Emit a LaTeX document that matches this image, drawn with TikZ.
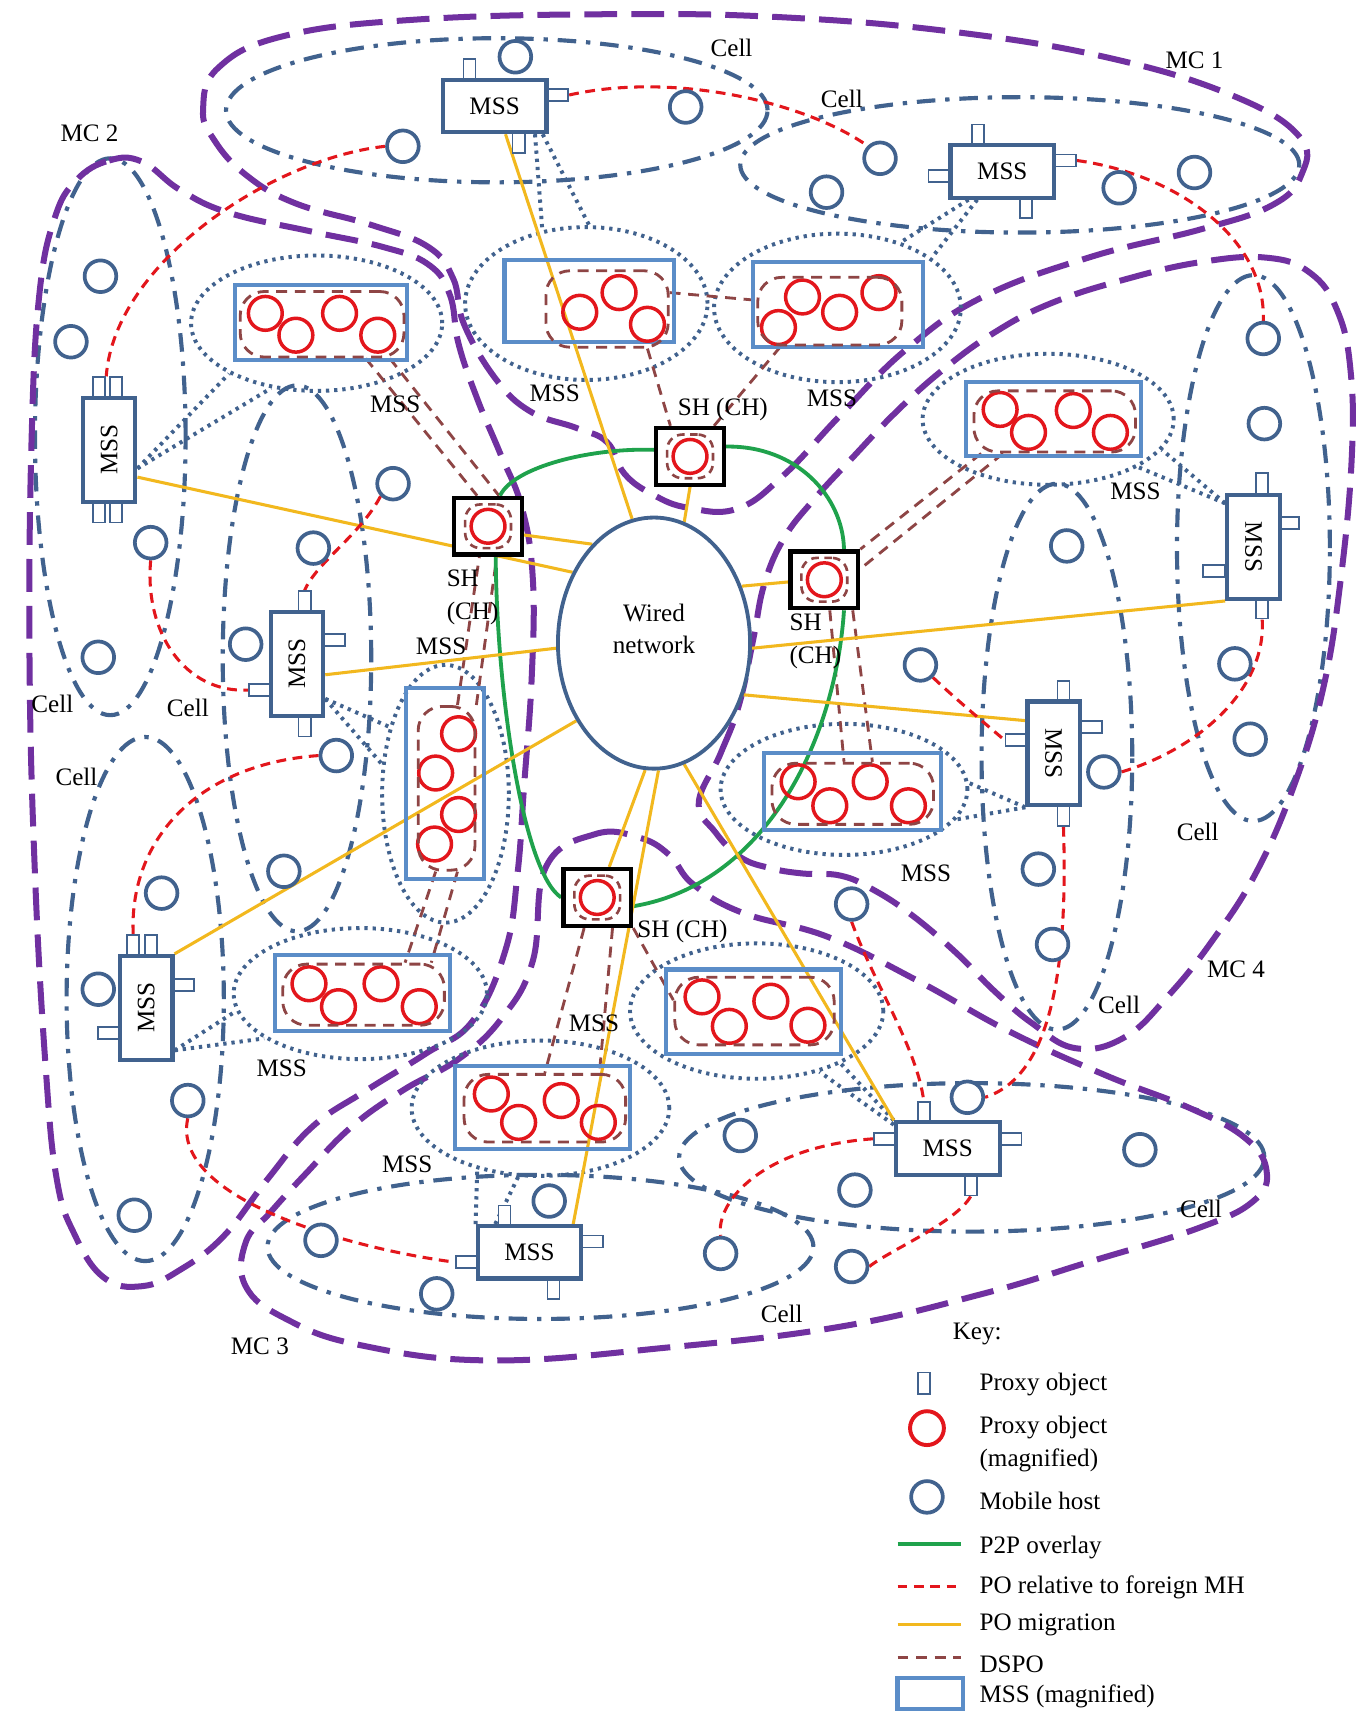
\documentclass[tikz,border=0pt]{standalone}
\usepackage{graphicx}
\usepackage{fontspec}
\setmainfont{Liberation Serif}
\usetikzlibrary{shapes.geometric,calc}
\pgfdeclarelayer{back}
\pgfdeclarelayer{lines}
\pgfsetlayers{back,lines,main}
\definecolor{mcpurple}{HTML}{7030A0}
\definecolor{cellblue}{HTML}{41628E}
\definecolor{magblue}{HTML}{5B8DC8}
\definecolor{pored}{HTML}{E3161C}
\definecolor{dsbrown}{HTML}{8E4545}
\definecolor{ptwo}{HTML}{1FA24C}
\definecolor{migr}{HTML}{F2B81E}
\tikzset{
  txt/.style={font=\fontsize{23}{30}\selectfont, inner sep=0pt},
  mcline/.style={draw=mcpurple, line width=5.5pt, dash pattern=on 30pt off 13pt},
  cellline/.style={draw=cellblue, line width=3.8pt, dash pattern=on 17pt off 9pt on 4pt off 9pt},
  mhost/.style={circle, draw=cellblue, line width=3.4pt, fill=white, minimum size=29pt, inner sep=0pt},
  pobj/.style={circle, draw=pored, line width=3.2pt, minimum size=31pt, inner sep=0pt},
  mssh/.style={txt, draw=cellblue, line width=3.8pt, fill=white, minimum width=95pt, minimum height=48pt},
  mssv/.style={txt, draw=cellblue, line width=3.8pt, fill=white, minimum width=48pt, minimum height=95pt},
  stubv/.style={draw=cellblue, line width=1.6pt, fill=white, minimum width=11pt, minimum height=19pt, inner sep=0pt},
  stubh/.style={draw=cellblue, line width=1.6pt, fill=white, minimum width=20pt, minimum height=11pt, inner sep=0pt},
  magbox/.style={draw=magblue, line width=3.8pt, inner sep=0pt},
  dotline/.style={draw=cellblue, line width=3.6pt, dash pattern=on 3pt off 4.5pt},
  bubble/.style={ellipse, dotline, inner sep=0pt},
  shbox/.style={draw=black, line width=4pt, fill=white, minimum width=62pt, minimum height=52pt, inner sep=0pt},
  foreign/.style={draw=pored, line width=2.8pt, dash pattern=on 9pt off 6pt},
  migration/.style={draw=migr, line width=2.8pt},
  ptp/.style={draw=ptwo, line width=3.5pt},
  dspo/.style={draw=dsbrown, line width=2.6pt, dash pattern=on 10pt off 7pt},
  dloop/.style={rectangle, rounded corners=22pt, dspo, inner sep=0pt},
  shloop/.style={rectangle, rounded corners=14pt, draw=dsbrown, line width=2.4pt, dash pattern=on 7pt off 5pt, minimum width=42pt, minimum height=40pt, inner sep=0pt},
}
\begin{document}
\begin{tikzpicture}[x=1pt,y=-1pt]
\begin{pgfonlayer}{back}
\fill[white] (0,0) rectangle (1247,1568);
\end{pgfonlayer}
\useasboundingbox (0,0) rectangle (1247,1568);

% ---------- wired network
\node[ellipse, draw=cellblue, line width=3.5pt, fill=white, minimum width=176pt, minimum height=230pt, inner sep=0pt] (wn) at (599,589) {};
\node[txt, align=center] (wnt) at (599,576) {Wired\\network};

% ---------- magnified MSS rectangles
\node[magbox, minimum width=158pt, minimum height=69pt] (r1) at (294,295.5) {};
\node[magbox, minimum width=155pt, minimum height=75pt] (r2) at (539.5,275.5) {};
\node[magbox, minimum width=155pt, minimum height=78pt] (r3) at (767.5,279) {};
\node[magbox, minimum width=160pt, minimum height=68pt] (r4) at (965,384) {};
\node[magbox, minimum width=71pt, minimum height=175pt] (r5) at (407.5,717.5) {};
\node[magbox, minimum width=162pt, minimum height=70pt] (r6) at (781,725) {};
\node[magbox, minimum width=160pt, minimum height=69pt] (r7) at (332,909.5) {};
\node[magbox, minimum width=160pt, minimum height=77pt] (r8) at (690,926.5) {};
\node[magbox, minimum width=160pt, minimum height=76pt] (r9) at (497,1014) {};

% ---------- proxy objects (magnified)
\foreach \n/\x/\y in {q1/243/287, q2/271/307, q3/311/287, q4/346/307,
  q5/531/286, q6/567/268, q7/593/297,
  q8/713/300, q9/735/272, q10/769/286, q11/805/268,
  q12/916/375, q13/942/396, q14/983/376, q15/1017/396,
  q16/420/672, q17/399/708, q18/420/746, q19/398/773,
  q20/731/716, q21/760/738, q22/797/716, q23/832/738,
  q24/283/901, q25/310/922, q26/349/901, q27/384/922,
  q28/643/913, q29/668/940, q30/706/917, q31/740/939,
  q32/450/1002, q33/475/1028, q34/514/1008, q35/548/1028}
  \node[pobj] (\n) at (\x,\y) {};

% ---------- DSPO loops
\node[dloop, minimum width=150pt, minimum height=60pt] (d1) at (295,297) {};
\node[dloop, minimum width=112pt, minimum height=70pt] (d2) at (556,283) {};
\node[dloop, minimum width=132pt, minimum height=62pt] (d3) at (760,285) {};
\node[dloop, minimum width=148pt, minimum height=56pt] (d4) at (966,386) {};
\node[dloop, minimum width=52pt, minimum height=150pt] (d5) at (409,722) {};
\node[dloop, minimum width=148pt, minimum height=56pt] (d6) at (781,727) {};
\node[dloop, minimum width=148pt, minimum height=56pt] (d7) at (333,911) {};
\node[dloop, minimum width=146pt, minimum height=62pt] (d8) at (691,926) {};
\node[dloop, minimum width=148pt, minimum height=62pt] (d9) at (499,1015) {};

% ---------- MSS stubs (proxy objects)
\node[stubv] (mAt) at (430,63.5) {};
\node[stubh] (mAr) at (510.5,87) {};
\node[stubv] (mAb) at (475,130.5) {};
\node[stubv] (mBt) at (896,123.5) {};
\node[stubh] (mBr) at (975.5,147) {};
\node[stubh] (mBl) at (860.5,161) {};
\node[stubv] (mBb) at (940,190.5) {};
\node[stubv] (mCt1) at (91,355) {};
\node[stubv] (mCt2) at (106,355) {};
\node[stubv] (mCb1) at (91,469) {};
\node[stubv] (mCb2) at (106,469) {};
\node[stubv] (mDt) at (279,551) {};
\node[stubh] (mDr) at (306,586) {};
\node[stubh] (mDl) at (238,632) {};
\node[stubv] (mDb) at (279,665) {};
\node[stubv] (mEt1) at (122,866) {};
\node[stubv] (mEt2) at (138,866) {};
\node[stubh] (mEr) at (168,902) {};
\node[stubh] (mEl) at (100,946) {};
\node[stubv] (mFt) at (1156,443) {};
\node[stubh] (mFr) at (1180,479) {};
\node[stubh] (mFl) at (1112,523) {};
\node[stubv] (mFb) at (1156,557) {};
\node[stubv] (mGt) at (974,633) {};
\node[stubh] (mGr) at (999,666) {};
\node[stubh] (mGl) at (931,678) {};
\node[stubv] (mGb) at (974,747) {};
\node[stubv] (mHt) at (846,1018.5) {};
\node[stubh] (mHl) at (810.5,1043) {};
\node[stubh] (mHr) at (925.5,1043) {};
\node[stubv] (mHb) at (889,1085.5) {};
\node[stubv] (mIt) at (462,1113.5) {};
\node[stubh] (mIl) at (427.5,1156) {};
\node[stubh] (mIr) at (542.5,1137) {};
\node[stubv] (mIb) at (507,1180.5) {};

% ---------- MSS boxes
\node[mssh] (mA) at (453,97) {MSS};
\node[mssh] (mB) at (918,157) {MSS};
\node[mssv] (mC) at (100,412) {\rotatebox{90}{MSS}};
\node[mssv] (mD) at (272,608) {\rotatebox{90}{MSS}};
\node[mssv] (mE) at (134,923) {\rotatebox{90}{MSS}};
\node[mssv] (mF) at (1148,501) {\rotatebox{-90}{MSS}};
\node[mssv] (mG) at (965,690) {\rotatebox{-90}{MSS}};
\node[mssh] (mH) at (868,1052) {MSS};
\node[mssh] (mI) at (485,1147) {MSS};

% ---------- SH (CH) boxes
\foreach \n/\x/\y in {sh1/632/418, sh2/447/482, sh3/755/531, sh4/547/822}{
  \node[shbox] (\n) at (\x,\y) {};
  \node[shloop] (\n l) at (\x,\y) {};
  \node[pobj] (\n c) at (\x,\y) {};
}

% ---------- mobile hosts
\foreach \n/\x/\y in {t1/472/52, t2/628/98, t3/369/134, t4/806/145, t5/757/176, t6/1025/172, t7/1094/158,
  h1/92/253, h2/65/313, h3/138/497, h4/90/602, h5/360/443, h6/287/502, h7/225/590, h8/308/692,
  h9/260/798, h10/148/818, h11/90/906, h12/172/1008, h13/123/1113,
  h14/294/1136, h15/400/1185, h16/503/1100, h17/678/1040, h18/783/1090, h19/660/1148, h20/780/1160,
  h21/886/1005, h22/1044/1053,
  h23/1157/310, h24/1158/388, h25/977/500, h26/1131/608, h27/1145/677, h28/843/609, h29/1011/707,
  h30/951/796, h31/964/865, h32/780/828}
  \node[mhost] (\n) at (\x,\y) {};

% ---------- labels
\node[txt] (lc1) at (670,44) {Cell};
\node[txt] (lc2) at (771,91) {Cell};
\node[txt] (lmc1) at (1094,55) {MC 1};
\node[txt] (lmc2) at (82,122) {MC 2};
\node[txt] (lm1) at (362,370) {MSS};
\node[txt] (lm2) at (508,360) {MSS};
\node[txt] (lm3) at (762,365) {MSS};
\node[txt] (lsh1) at (662,375) {SH (CH)};
\node[txt] (lm4) at (1040,450) {MSS};
\node[txt, align=left, anchor=north west] (lsh2) at (409,522) {SH\\(CH)};
\node[txt] (lm5) at (404,592) {MSS};
\node[txt, align=left, anchor=north west] (lsh3) at (723,562) {SH\\(CH)};
\node[txt] (lc3) at (48,645) {Cell};
\node[txt] (lc4) at (172,648) {Cell};
\node[txt] (lc5) at (70,712) {Cell};
\node[txt] (lm6) at (848,800) {MSS};
\node[txt] (lc6) at (1097,762) {Cell};
\node[txt] (lsh4) at (625,853) {SH (CH)};
\node[txt] (lmc4) at (1132,888) {MC 4};
\node[txt] (lc7) at (1025,920) {Cell};
\node[txt] (lm8) at (544,937) {MSS};
\node[txt] (lm7) at (258,978) {MSS};
\node[txt] (lm9) at (373,1066) {MSS};
\node[txt] (lc8) at (1100,1107) {Cell};
\node[txt] (lc9) at (716,1203) {Cell};
\node[txt] (lmc3) at (238,1233) {MC 3};

% ---------- legend
\node[txt] (key) at (895,1222) {Key:};
\node[stubv, minimum height=20pt] (kpo) at (846,1267) {};
\node[txt, anchor=west] (kt1) at (897,1268) {Proxy object};
\node[pobj, line width=3.6pt] (kpm) at (849,1308) {};
\node[txt, anchor=north west, align=left] (kt2) at (897,1297) {Proxy object\\(magnified)};
\node[mhost] (kmh) at (849,1371) {};
\node[txt, anchor=west] (kt3) at (897,1375) {Mobile host};
\coordinate (ka1) at (822,1414); \coordinate (kb1) at (880,1414);
\node[txt, anchor=west] (kt4) at (897,1417) {P2P overlay};
\coordinate (ka2) at (822,1453); \coordinate (kb2) at (880,1453);
\node[txt, anchor=west] (kt5) at (897,1454) {PO relative to foreign MH};
\coordinate (ka3) at (822,1488); \coordinate (kb3) at (880,1488);
\node[txt, anchor=west] (kt6) at (897,1488) {PO migration};
\coordinate (ka4) at (822,1518); \coordinate (kb4) at (880,1518);
\node[txt, anchor=west] (kt7) at (897,1524) {DSPO};
\node[magbox, minimum width=60pt, minimum height=29pt] (kmag) at (852,1551) {};
\node[txt, anchor=west] (kt8) at (897,1554) {MSS (magnified)};

\begin{pgfonlayer}{lines}
% ---------- cells
\draw[cellline] (455,101) ellipse [x radius=248pt, y radius=66pt];
\draw[cellline] (934,151) ellipse [x radius=256pt, y radius=62pt];
\draw[cellline] (101,400) ellipse [x radius=69pt, y radius=255pt];
\draw[cellline] (272,603) ellipse [x radius=68pt, y radius=250pt];
\draw[cellline] (133,915) ellipse [x radius=72pt, y radius=240pt];
\draw[cellline] (1148,502) ellipse [x radius=70pt, y radius=250pt];
\draw[cellline] (968,693) ellipse [x radius=69pt, y radius=250pt];
\draw[cellline] (495,1142) ellipse [x radius=250pt, y radius=66pt];
\draw[cellline] (890,1060) ellipse [x radius=268pt, y radius=68pt];

% ---------- MC boundaries
\draw[mcline] plot[smooth cycle, tension=0.7] coordinates {(186,100) (200,62) (260,33) (380,18) (560,13) (720,16) (880,30) (1020,54) (1130,88) (1190,125) (1192,160) (1165,188) (1100,210) (1000,235) (900,272) (830,320) (770,380) (718,435) (675,466) (630,465) (598,453) (572,434) (556,405) (528,392) (486,377) (454,347) (425,297) (415,255) (392,226) (340,206) (270,186) (225,160) (196,128)};
\draw[mcline] plot[smooth cycle, tension=0.7] coordinates {(70,165) (100,147) (130,148) (165,174) (210,195) (285,212) (350,226) (392,242) (412,270) (420,315) (437,365) (458,415) (478,465) (488,530) (487,620) (480,720) (474,800) (463,870) (433,935) (390,965) (335,999) (286,1032) (245,1080) (205,1132) (165,1163) (130,1178) (95,1170) (68,1130) (52,1080) (42,980) (32,800) (27,600) (29,400) (36,270) (50,200)};
\draw[mcline] plot[smooth cycle, tension=0.7] coordinates {(500,794) (545,764) (585,767) (613,783) (635,810) (680,836) (758,858) (840,898) (925,945) (1013,985) (1090,1015) (1140,1042) (1160,1072) (1148,1100) (1097,1125) (1000,1155) (900,1185) (770,1215) (613,1234) (450,1246) (330,1232) (262,1208) (225,1178) (225,1138) (248,1110) (280,1075) (322,1032) (370,998) (420,970) (460,932) (488,880)};
\draw[mcline] plot[smooth cycle, tension=0.7] coordinates {(640,735) (660,690) (677,645) (690,585) (700,535) (718,493) (745,458) (780,420) (820,378) (862,340) (910,305) (962,278) (1030,256) (1100,240) (1160,236) (1200,250) (1225,285) (1237,340) (1238,420) (1228,530) (1212,630) (1185,720) (1150,800) (1110,862) (1070,912) (1030,950) (985,960) (945,937) (910,907) (875,872) (835,838) (800,815) (770,802) (735,800) (705,795) (678,785) (655,762)};

% ---------- dotted bubbles and their tails
\node[bubble, minimum width=230pt, minimum height=124pt] (b1) at (290,296) {};
\node[bubble, minimum width=222pt, minimum height=140pt] (b2) at (537,278) {};
\node[bubble, minimum width=226pt, minimum height=136pt] (b3) at (767,282) {};
\node[bubble, minimum width=230pt, minimum height=120pt] (b4) at (960,384) {};
\node[bubble, minimum width=116pt, minimum height=236pt] (b5) at (408,727) {};
\node[bubble, minimum width=226pt, minimum height=120pt] (b6) at (773,723) {};
\node[bubble, minimum width=232pt, minimum height=120pt] (b7) at (330,910) {};
\node[bubble, minimum width=232pt, minimum height=124pt] (b8) at (693,926) {};
\node[bubble, minimum width=236pt, minimum height=124pt] (b9) at (495,1015) {};
\draw[dotline] ($(mC.east)+(0,17)$) -- (b1.210);
\draw[dotline] ($(mC.east)+(0,17)$) -- (b1.235);
\draw[dotline] ($(mA.south)+(37,0)$) -- (b2.121);
\draw[dotline] ($(mA.south)+(44,0)$) -- (b2.88);
\draw[dotline] ($(mB.south)+(-31,0)$) -- (b3.46);
\draw[dotline] ($(mB.south)+(-23,0)$) -- (b3.28);
\draw[dotline] ($(mF.west)+(0,-40)$) -- (b4.-15);
\draw[dotline] ($(mF.west)+(0,-40)$) -- (b4.-28);
\draw[dotline] ($(mD.east)+(0,32)$) -- (b5.130);
\draw[dotline] ($(mD.east)+(0,32)$) -- (b5.155);
\draw[dotline] (mG.south west) -- (b6.3);
\draw[dotline] (mG.south west) -- (b6.-15);
\draw[dotline] ($(mE.east)+(0,39)$) -- (b7.188);
\draw[dotline] ($(mE.east)+(0,39)$) -- (b7.205);
\draw[dotline] (mI.north west) -- (b9.224);
\draw[dotline] ($(mI.north west)+(18,0)$) -- (b9.252);
\draw[dotline] (mH.north west) -- (b8.-32);
\draw[dotline] ($(mH.north west)+(0,4)$) -- (b8.-44);

% ---------- DSPO
\draw[dspo] ($(d1.south)+(40,0)$) -- ($(sh2.north)+(-10,0)$);
\draw[dspo] ($(d1.south)+(62,0)$) -- ($(sh2.north)+(10,0)$);
\draw[dspo] ($(d2.south)+(37,0)$) -- ($(sh1.north)+(-18,0)$);
\draw[dspo] ($(d3.south)+(-45,0)$) -- ($(sh1.north)+(22,0)$);
\draw[dspo] ($(d2.east)+(0,-15)$) -- ($(d3.west)+(0,-10)$);
\draw[dspo] ($(d4.south west)+(8,0)$) -- (sh3.north east);
\draw[dspo] ($(d4.south west)+(28,0)$) -- ($(sh3.east)+(0,-10)$);
\draw[dspo] ($(sh3.south)+(5,0)$) -- ($(d6.north)+(-8,0)$);
\draw[dspo] ($(sh3.south)+(26,0)$) -- ($(d6.north)+(18,0)$);
\draw[dspo] ($(d5.north)+(10,0)$) -- ($(sh2.south)+(-8,0)$);
\draw[dspo] (d5.north east) -- ($(sh2.south)+(8,0)$);
\draw[dspo] ($(d5.south)+(-10,0)$) -- ($(d7.north)+(38,0)$);
\draw[dspo] ($(d5.south)+(10,0)$) -- ($(d7.north)+(62,0)$);
\draw[dspo] ($(sh4.south)+(-12,0)$) -- (d9.north);
\draw[dspo] ($(sh4.south)+(14,0)$) -- ($(d9.north)+(50,0)$);
\draw[dspo] (sh4.south east) -- ($(d8.west)+(0,-10)$);

% ---------- P2P overlay
\draw[ptp] ($(sh2.north)+(11,0)$) .. controls (470,428) and (540,410) .. ($(sh1.west)+(0,-6)$);
\draw[ptp] ($(sh1.east)+(0,-9)$) .. controls (730,408) and (772,455) .. ($(sh3.north)+(18,0)$);
\draw[ptp] ($(sh3.south)+(18,0)$) .. controls (765,680) and (700,810) .. ($(sh4.east)+(0,8)$);
\draw[ptp] (sh4.west) .. controls (480,800) and (455,640) .. ($(sh2.south)+(7,0)$);

% ---------- PO migration
\draw[migration] ($(mA.south)+(10,0)$) -- (wn.100);
\draw[migration] (sh1.south) -- (wn.76);
\draw[migration] ($(mC.east)+(0,25)$) -- (wn.139);
\draw[migration] ($(sh2.east)+(0,8)$) -- (wn.122);
\draw[migration] ($(mD.east)+(0,10)$) -- (wn.183);
\draw[migration] (mE.north east) -- (wn.225);
\draw[migration] ($(sh4.north)+(11,0)$) -- (wn.266);
\draw[migration] ($(mI.north)+(40,0)$) -- (wn.272);
\draw[migration] (mH.north west) -- (wn.284);
\draw[migration] ($(mG.west)+(0,-30)$) -- (wn.330);
\draw[migration] (mF.south west) -- (wn.357);
\draw[migration] ($(sh3.west)+(0,2)$) -- (wn.33);

% ---------- PO relative to foreign MH
\draw[foreign] (mAr.east) .. controls (620,65) and (740,95) .. (t4.north west);
\draw[foreign] (t3.west) .. controls (250,145) and (105,240) .. (mCt1.north east);
\draw[foreign] (mBr.east) .. controls (1080,160) and (1160,220) .. (h23.north);
\draw[foreign] (h5.south west) .. controls (330,490) and (290,515) .. (mDt.north);
\draw[foreign] (h3.south) .. controls (132,580) and (170,635) .. (mDl.west);
\draw[foreign] (h8.west) .. controls (180,700) and (118,770) .. (mEt1.north);
\draw[foreign] (h12.south) .. controls (155,1100) and (330,1145) .. (mIl.west);
\draw[foreign] (h28.south east) .. controls (875,640) and (905,665) .. (mGl.west);
\draw[foreign] (h29.east) .. controls (1100,685) and (1160,630) .. (mFb.south);
\draw[foreign] (mGb.south) .. controls (978,880) and (965,985) .. (h21.east);
\draw[foreign] (h32.south) .. controls (800,900) and (840,960) .. (mHt.north);
\draw[foreign] (mHl.west) .. controls (700,1050) and (655,1100) .. (h19.north);
\draw[foreign] (mHb.south) .. controls (875,1120) and (815,1145) .. (h20.east);

% ---------- legend lines
\draw[ptp] (ka1) -- (kb1);
\draw[foreign] (ka2) -- (kb2);
\draw[migration] (ka3) -- (kb3);
\draw[dspo] (ka4) -- (kb4);
\end{pgfonlayer}
\end{tikzpicture}
\end{document}
